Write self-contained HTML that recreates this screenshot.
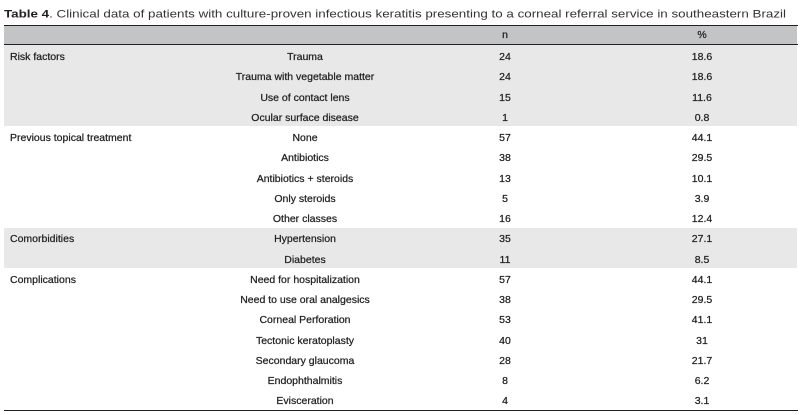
<!DOCTYPE html>
<html>
<head>
<meta charset="utf-8">
<style>
html,body{margin:0;padding:0;background:#fff;}
body{width:802px;height:415px;overflow:hidden;position:relative;font-family:"Liberation Sans",sans-serif;color:#231f20;}
.abs{position:absolute;}
.band{position:absolute;left:4px;width:793px;}
.line{position:absolute;left:4px;width:794px;height:1.5px;background:#231f20;}
.row{position:absolute;left:0;width:802px;height:20.25px;font-size:10.5px;-webkit-text-stroke:0.25px #231f20;}
.row span{position:absolute;top:0;line-height:20.25px;padding-top:2px;white-space:nowrap;}
.c1{left:10px;}
.c2{left:155px;width:300px;text-align:center;}
.c3{left:455px;width:100px;text-align:center;}
.c4{left:652px;width:100px;text-align:center;}
</style>
</head>
<body>
<svg class="abs" style="left:0;top:0" width="802" height="24">
  <text x="4" y="17.5" font-family="Liberation Sans, sans-serif" font-size="11" fill="#333" textLength="782" lengthAdjust="spacingAndGlyphs"><tspan font-weight="bold" fill="#231f20">Table 4</tspan>. Clinical data of patients with culture-proven infectious keratitis presenting to a corneal referral service in southeastern Brazil</text>
</svg>

<div class="band" style="top:25px;height:19px;background:#c3c4c6;"></div>
<div class="band" style="top:45px;height:81px;background:#e8e8e9;"></div>
<div class="band" style="top:227.5px;height:40.5px;background:#e8e8e9;"></div>

<div class="line" style="top:24.5px;"></div>
<div class="line" style="top:43.5px;"></div>
<div class="line" style="top:409.5px;"></div>

<div class="row" style="top:25px;height:19px;"><span class="c3" style="line-height:19px;padding-top:0.5px;">n</span><span class="c4" style="line-height:19px;padding-top:0.5px;">%</span></div>

<div class="row" style="top:45px;"><span class="c1">Risk factors</span><span class="c2">Trauma</span><span class="c3">24</span><span class="c4">18.6</span></div>
<div class="row" style="top:65.25px;"><span class="c2">Trauma with vegetable matter</span><span class="c3">24</span><span class="c4">18.6</span></div>
<div class="row" style="top:85.5px;"><span class="c2">Use of contact lens</span><span class="c3">15</span><span class="c4">11.6</span></div>
<div class="row" style="top:105.75px;"><span class="c2">Ocular surface disease</span><span class="c3">1</span><span class="c4">0.8</span></div>
<div class="row" style="top:126px;"><span class="c1">Previous topical treatment</span><span class="c2">None</span><span class="c3">57</span><span class="c4">44.1</span></div>
<div class="row" style="top:146.25px;"><span class="c2">Antibiotics</span><span class="c3">38</span><span class="c4">29.5</span></div>
<div class="row" style="top:166.5px;"><span class="c2">Antibiotics + steroids</span><span class="c3">13</span><span class="c4">10.1</span></div>
<div class="row" style="top:186.75px;"><span class="c2">Only steroids</span><span class="c3">5</span><span class="c4">3.9</span></div>
<div class="row" style="top:207px;"><span class="c2">Other classes</span><span class="c3">16</span><span class="c4">12.4</span></div>
<div class="row" style="top:227.25px;"><span class="c1">Comorbidities</span><span class="c2">Hypertension</span><span class="c3">35</span><span class="c4">27.1</span></div>
<div class="row" style="top:247.5px;"><span class="c2">Diabetes</span><span class="c3">11</span><span class="c4">8.5</span></div>
<div class="row" style="top:267.75px;"><span class="c1">Complications</span><span class="c2">Need for hospitalization</span><span class="c3">57</span><span class="c4">44.1</span></div>
<div class="row" style="top:288px;"><span class="c2">Need to use oral analgesics</span><span class="c3">38</span><span class="c4">29.5</span></div>
<div class="row" style="top:308.25px;"><span class="c2">Corneal Perforation</span><span class="c3">53</span><span class="c4">41.1</span></div>
<div class="row" style="top:328.5px;"><span class="c2">Tectonic keratoplasty</span><span class="c3">40</span><span class="c4">31</span></div>
<div class="row" style="top:348.75px;"><span class="c2">Secondary glaucoma</span><span class="c3">28</span><span class="c4">21.7</span></div>
<div class="row" style="top:369px;"><span class="c2">Endophthalmitis</span><span class="c3">8</span><span class="c4">6.2</span></div>
<div class="row" style="top:389.25px;"><span class="c2">Evisceration</span><span class="c3">4</span><span class="c4">3.1</span></div>
</body>
</html>
